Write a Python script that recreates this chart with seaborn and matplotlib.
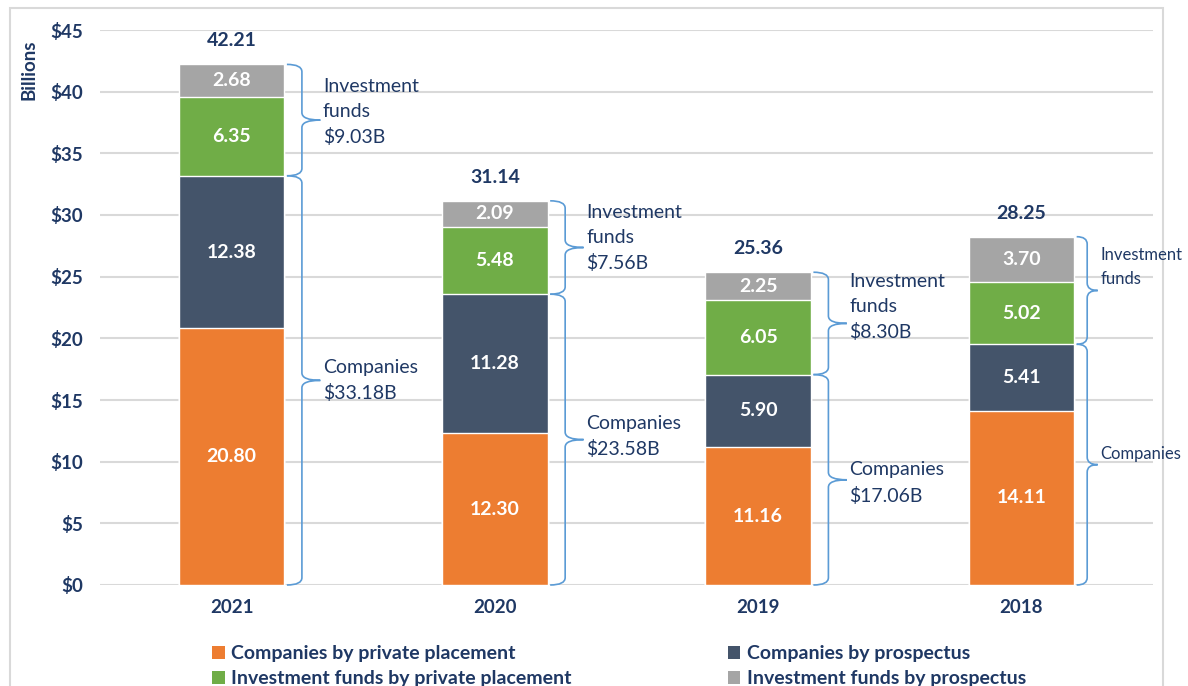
import seaborn as sns
import pandas as pd
import matplotlib.pyplot as plt
from matplotlib.path import Path
from matplotlib.patches import PathPatch, Rectangle, Patch

years = ["2021", "2020", "2019", "2018"]
companies_private = [20.80, 12.30, 11.16, 14.11]
companies_prospectus = [12.38, 11.28, 5.90, 5.41]
funds_private = [6.35, 5.48, 6.05, 5.02]
funds_prospectus = [2.68, 2.09, 2.25, 3.70]
totals = [42.21, 31.14, 25.36, 28.25]

companies_labels = ["Companies\n$33.18B", "Companies\n$23.58B", "Companies\n$17.06B", "Companies"]
funds_labels = ["Investment\nfunds\n$9.03B", "Investment\nfunds\n$7.56B", "Investment\nfunds\n$8.30B", "Investment\nfunds"]

series_names = ["Companies by private placement", "Companies by prospectus",
                "Investment funds by private placement", "Investment funds by prospectus"]
colors = ["#ED7D31", "#44546A", "#70AD47", "#A5A5A5"]
navy = "#1F3864"
brace_color = "#5B9BD5"

sns.set_style("white")
plt.rcParams['font.family'] = ['Lato', 'DejaVu Sans']

df = pd.DataFrame({
    "Year": years,
    series_names[0]: companies_private,
    series_names[1]: companies_prospectus,
    series_names[2]: funds_private,
    series_names[3]: funds_prospectus,
})
cum = df[series_names].cumsum(axis=1)

fig = plt.figure(figsize=(11.88, 6.86), dpi=100)
ax = fig.add_axes([100 / 1188, 1 - 585 / 686, (1153 - 100) / 1188, (585 - 30) / 686])

# stacked bars by overdrawing cumulative sums, top segment first
for name, color in reversed(list(zip(series_names, colors))):
    sns.barplot(x=df["Year"], y=cum[name], color=color, width=0.4, saturation=1,
                ax=ax, zorder=3)

# segment labels
for i in range(len(years)):
    bottom = 0
    for name in series_names:
        val = df.loc[i, name]
        ax.text(i, bottom + val / 2, f"{val:.2f}", ha='center', va='center',
                color='white', fontsize=14, fontweight='bold', zorder=4)
        bottom += val
    ax.annotate(f"{totals[i]:.2f}", (i, cum.loc[i, series_names[3]]), xytext=(0, 17),
                textcoords='offset points', ha='center', va='center',
                color=navy, fontsize=14, fontweight='bold')


def brace(ax, x0, y0, y1, w=0.057, tip=0.07, ry=0.6):
    xm = x0 + w
    ym = (y0 + y1) / 2
    xt = xm + tip
    verts = [(x0, y1), (xm, y1), (xm, y1 - ry), (xm, ym + ry), (xm, ym), (xt, ym),
             (xt, ym), (xm, ym), (xm, ym - ry), (xm, y0 + ry), (xm, y0), (x0, y0)]
    codes = [Path.MOVETO, Path.CURVE3, Path.CURVE3, Path.LINETO, Path.CURVE3, Path.CURVE3,
             Path.MOVETO, Path.CURVE3, Path.CURVE3, Path.LINETO, Path.CURVE3, Path.CURVE3]
    ax.add_patch(PathPatch(Path(verts, codes), fill=False, edgecolor=brace_color, lw=1.2,
                           zorder=4, clip_on=False))
    return xt, ym


funds_offsets = [0.65, 0.75, 1.3, 1.9]
companies_offsets = [0.0, 0.25, -0.25, 0.9]
for i in range(len(years)):
    x0 = i + 0.21
    comp_top = cum.loc[i, series_names[1]]
    top = cum.loc[i, series_names[3]]
    small = i == 3
    fs = 12 if small else 14
    tip = 0.04 if small else 0.07
    w = 0.04 if small else 0.057
    xt, ym = brace(ax, x0, comp_top, top, w=w, tip=tip)
    ax.text(xt + 0.01, ym + funds_offsets[i], funds_labels[i], ha='left', va='center',
            color=navy, fontsize=fs, linespacing=1.55, zorder=6)
    xt, ym = brace(ax, x0, 0, comp_top, w=w, tip=tip)
    ax.text(xt + 0.01, ym + companies_offsets[i], companies_labels[i], ha='left', va='center',
            color=navy, fontsize=fs, linespacing=1.55, zorder=6)

ax.set_xlim(-0.5, 3.5)
ax.set_ylim(0, 45)
ax.set_yticks(range(0, 50, 5))
ax.set_yticklabels([f"${v}" for v in range(0, 50, 5)])
ax.yaxis.grid(True, color="#D9D9D9", lw=1.5, zorder=0)
ax.set_axisbelow(True)
for s in ax.spines.values():
    s.set_visible(False)
ax.tick_params(axis='both', length=0, labelcolor=navy, labelsize=13.5)
ax.tick_params(axis='y', pad=12)
ax.tick_params(axis='x', pad=10)
for lab in ax.get_xticklabels() + ax.get_yticklabels():
    lab.set_fontweight('bold')
ax.set_xlabel("")
ax.set_ylabel("Billions", color=navy, fontsize=13.5, fontweight='bold')
ax.yaxis.set_label_coords(-0.0595, 0.928)

handles = [Patch(facecolor=c, edgecolor='none') for c in colors]
order = [0, 2, 1, 3]
fig.legend([handles[k] for k in order], [series_names[k] for k in order], ncol=2,
           loc='upper left', bbox_to_anchor=(212 / 1188, 1 - 645 / 686), frameon=False,
           handlelength=0.65, handleheight=0.65, handletextpad=0.35, labelspacing=0.42,
           columnspacing=8.0, borderaxespad=0, borderpad=0,
           prop={'weight': 'bold', 'size': 14})
for t in fig.legends[0].get_texts():
    t.set_color(navy)

fig.patches.append(Rectangle((10 / 1188, -0.1), (1163 - 10) / 1188, 1.1 - 8 / 686,
                             transform=fig.transFigure, fill=False, edgecolor="#D9D9D9",
                             lw=1.5, figure=fig, zorder=-1))

fig.savefig("out.png", dpi=100)
